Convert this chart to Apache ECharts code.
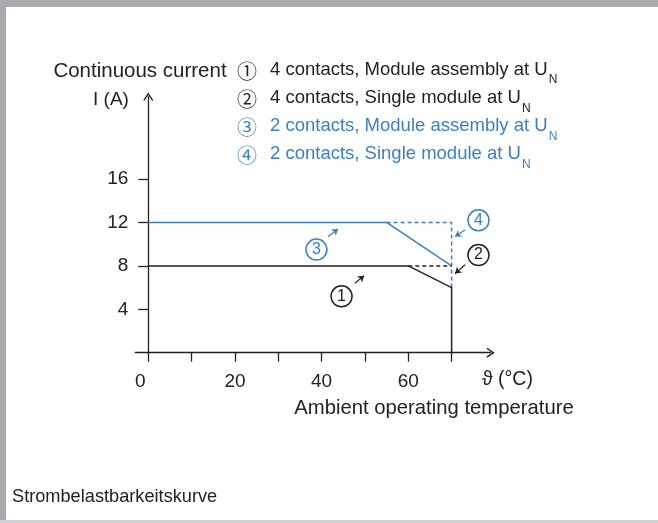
<!DOCTYPE html>
<html><head><meta charset="utf-8">
<script src="https://cdn.jsdelivr.net/npm/echarts@6/dist/echarts.min.js"></script>
<style>html,body{margin:0;padding:0;background:#fff}#c{width:658px;height:523px}</style>
</head><body><div id="c"></div>
<script>
// ---------- data ----------
const xTicks = [0, 10, 20, 30, 40, 50, 60, 70];
const xLabels = [0, 20, 40, 60];
const yTicks = [4, 8, 12, 16];
// ① 4 contacts, Module assembly at UN
const c1T = [0, 60, 70, 70];
const c1I = [8, 8, 6, 0];
// ② 4 contacts, Single module at UN (extension)
const c2T = [60, 70];
const c2I = [8, 8];
// ③ 2 contacts, Module assembly at UN
const c3T = [0, 55, 70];
const c3I = [12, 12, 8];
// ④ 2 contacts, Single module at UN (extension)
const c4T = [55, 70, 70];
const c4I = [12, 12, 6];
const legendNums = ['①', '②', '③', '④'];
const legendTexts = ['4 contacts, Module assembly at U', '4 contacts, Single module at U',
                     '2 contacts, Module assembly at U', '2 contacts, Single module at U'];

const BLUE = '#3b7fc6', BLACK = '#222222';
const FONT = '"Liberation Sans", Arial, sans-serif';
const CFONT = '"Noto Sans CJK SC", "DejaVu Sans", sans-serif';
const zip = (a, b) => a.map((v, i) => [v, b[i]]);

function annot(num, center, from, to, color) {
  return {
    markPoint: {
      silent: true, animation: false,
      symbol: 'circle', symbolSize: 21,
      itemStyle: { color: '#fff', borderColor: color, borderWidth: 1.5 },
      label: { show: true, position: 'inside', formatter: num, color: color, fontSize: 16, fontFamily: FONT },
      data: [{ coord: center }]
    },
    markLine: {
      silent: true, animation: false,
      symbol: ['none', 'arrow'], symbolSize: 6,
      lineStyle: { type: 'solid', color: color, width: 1.2 },
      label: { show: false },
      data: [[{ coord: from }, { coord: to }]]
    }
  };
}

const ARROW = 'path://M0,0 L6,9 L4.6,10 L0,3.2 L-4.6,10 L-6,9 Z';

const chart = echarts.init(document.getElementById('c'), null, { renderer: 'canvas' });

const legendGraphics = [];
const rowY = [71, 99.5, 127.5, 155.5];
legendTexts.forEach((t, i) => {
  const col = i < 2 ? BLACK : BLUE;
  legendGraphics.push({
    type: 'text', x: 247, y: rowY[i],
    style: { text: legendNums[i], fill: col, font: '20px ' + CFONT, textAlign: 'center', textVerticalAlign: 'middle' }
  });
  legendGraphics.push({
    type: 'text', x: 270, y: rowY[i] - 11,
    style: {
      text: '{t|' + t + '}{s|N}', fill: col, textAlign: 'left', textVerticalAlign: 'top',
      rich: {
        t: { fontSize: 18.5, fontFamily: FONT, fill: col, lineHeight: 22, verticalAlign: 'top' },
        s: { fontSize: 12, fontFamily: FONT, fill: col, lineHeight: 12, verticalAlign: 'top', padding: [14, 0, 0, 1] }
      }
    }
  });
});

const option = {
  animation: false,
  backgroundColor: '#fff',
  grid: { left: 135.3, top: 96.6, width: 355.3, height: 256.1, containLabel: false },
  xAxis: {
    type: 'value', min: -3, max: 79,
    axisLine: { show: true, onZero: true, symbol: ['none', ARROW], symbolSize: [10, 9], lineStyle: { color: BLACK, width: 1.3 } },
    axisTick: { show: true, customValues: xTicks, length: 9, lineStyle: { color: BLACK, width: 1.3 } },
    axisLabel: {
      customValues: xLabels, margin: 20, fontSize: 19, color: BLACK, fontFamily: FONT,
      formatter: v => v === 0 ? '{z|0}' : String(v),
      rich: { z: { padding: [0, 16, 0, 0], fontSize: 19, color: BLACK, fontFamily: FONT } }
    },
    splitLine: { show: false }
  },
  yAxis: {
    type: 'value', min: 0, max: 23.6,
    axisLine: { show: true, onZero: true, symbol: ['none', ARROW], symbolSize: [10, 9], lineStyle: { color: BLACK, width: 1.3 } },
    axisTick: { show: true, customValues: yTicks, length: 10, lineStyle: { color: BLACK, width: 1.3 } },
    axisLabel: { customValues: yTicks, margin: 7, fontSize: 19, color: BLACK, fontFamily: FONT },
    splitLine: { show: false }
  },
  series: [
    Object.assign({
      type: 'line', data: zip(c4T, c4I), symbol: 'none', silent: true,
      lineStyle: { color: BLUE, width: 1.5, type: [4, 3] }
    }, annot('4', [76.2, 12.2], [73.1, 11.3], [70.8, 10.7], BLUE)),
    Object.assign({
      type: 'line', data: zip(c3T, c3I), symbol: 'none', silent: true,
      lineStyle: { color: BLUE, width: 1.5 }
    }, annot('3', [38.8, 9.5], [41.5, 10.7], [43.8, 11.4], BLUE)),
    Object.assign({
      type: 'line', data: zip(c2T, c2I), symbol: 'none', silent: true,
      lineStyle: { color: BLACK, width: 1.5, type: [4, 3] }
    }, annot('2', [76.2, 9.0], [73.1, 8.1], [70.8, 7.3], BLACK)),
    Object.assign({
      type: 'line', data: zip(c1T, c1I), symbol: 'none', silent: true,
      lineStyle: { color: BLACK, width: 1.5 }
    }, annot('1', [44.6, 5.2], [47.7, 6.4], [49.8, 7.1], BLACK))
  ],
  graphic: [
    { type: 'rect', shape: { x: 0, y: 0, width: 658, height: 7 }, style: { fill: '#a9abaf' }, silent: true },
    { type: 'rect', shape: { x: 0, y: 0, width: 6, height: 523 }, style: { fill: '#a9abaf' }, silent: true },
    { type: 'rect', shape: { x: 0, y: 520, width: 658, height: 3 }, style: { fill: '#cfd1d4' }, silent: true },
    { type: 'text', x: 140, y: 71, style: { text: 'Continuous current', fill: BLACK, font: '20.5px ' + FONT, textAlign: 'center', textVerticalAlign: 'middle' } },
    { type: 'text', x: 111, y: 100, style: { text: 'I (A)', fill: BLACK, font: '19px ' + FONT, textAlign: 'center', textVerticalAlign: 'middle' } },
    { type: 'text', x: 482, y: 380, style: { text: 'ϑ (°C)', fill: BLACK, font: '19.5px ' + FONT, textAlign: 'left', textVerticalAlign: 'middle' } },
    { type: 'text', x: 434, y: 408, style: { text: 'Ambient operating temperature', fill: BLACK, font: '20.3px ' + FONT, textAlign: 'center', textVerticalAlign: 'middle' } },
    { type: 'text', x: 12, y: 497, style: { text: 'Strombelastbarkeitskurve', fill: BLACK, font: '18.2px ' + FONT, textAlign: 'left', textVerticalAlign: 'middle' } }
  ].concat(legendGraphics)
};
chart.setOption(option);
</script></body></html>
